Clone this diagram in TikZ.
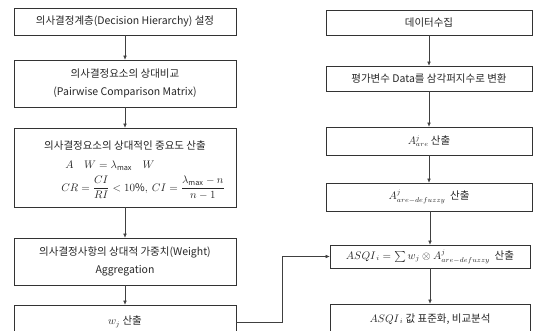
\documentclass[tikz,border=0pt]{standalone}
\usepackage{amsmath}
\usepackage{fontspec}
\setmainfont{Noto Sans CJK KR}
\usetikzlibrary{arrows.meta}
\begin{document}
\begin{tikzpicture}[x=1pt,y=-1pt,
  box/.style={draw=black!80, line width=0.6pt, rectangle, inner sep=0pt, align=center,
    text=black!85, font=\fontsize{10.5}{18}\selectfont},
  txt/.style={inner sep=0pt, align=center, text=black!85, font=\fontsize{10.5}{18}\selectfont},
  conn/.style={draw=black!75, line width=0.5pt, -{Latex[length=4pt,width=3.5pt]}}]
\useasboundingbox (0,0) rectangle (537,331);
\clip (0,0) rectangle (537,331);
% left column
\node[box, minimum width=222pt, minimum height=27pt] (b1) at (125,21.5) {의사결정계층(Decision Hierarchy) 설정};
\node[box, minimum width=222pt, minimum height=47pt] (b2) at (125,83.5) {의사결정요소의 상대비교\\(Pairwise Comparison Matrix)};
\node[box, minimum width=222pt, minimum height=79pt] (b3) at (125,167.5) {};
\node[txt] (b3t) at (125,146) {의사결정요소의 상대적인 중요도 산출};
\node[txt] (b3f1) at (110,166) {$A\quad W=\lambda_{\max}\quad W$};
\node[txt] (b3f2) at (143,188) {$\displaystyle CR=\frac{CI}{RI}<10\%,\ CI=\frac{\lambda_{\max}-n}{n-1}$};
\node[box, minimum width=222pt, minimum height=47pt] (b4) at (125,261.5) {의사결정사항의 상대적 가중치(Weight)\\Aggregation};
\node[box, minimum width=222pt, minimum height=34pt] (b5) at (125,322) {$w_j$ 산출};
% right column
\node[box, minimum width=206pt, minimum height=25pt] (r1) at (429,22.5) {데이터수집};
\node[box, minimum width=206pt, minimum height=25pt] (r2) at (429,78.5) {평가변수 Data를 삼각퍼지수로 변환};
\node[box, minimum width=206pt, minimum height=28pt] (r3) at (429,141) {$A^{j}_{are}$ 산출};
\node[box, minimum width=206pt, minimum height=28pt] (r4) at (429,197) {$A^{j}_{are-defuzzy}$\ \ 산출};
\node[box, minimum width=200pt, minimum height=23pt] (r5) at (430,256.5) {$ASQI_{\,i}=\sum w_j\otimes A^{j}_{are-defuzzy}$\ \ 산출};
\node[box, minimum width=200pt, minimum height=30pt] (r6) at (430,319) {$ASQI_{\,i}$ 값 표준화, 비교분석};
% connectors
\draw[conn] (b1) -- (b2);
\draw[conn] (b2) -- (b3);
\draw[conn] (b3) -- (b4);
\draw[conn] (b4) -- (b5);
\draw[conn] (r1) -- (r2);
\draw[conn] (r2) -- (r3);
\draw[conn] (r3) -- (r4);
\draw[conn] (r4.south -| r5.north) -- (r5.north);
\draw[conn] (r5) -- (r6);
\coordinate (bend) at (282,0);
\draw[conn] (b5.east) -- (b5.east -| bend) |- (r5.west);
\end{tikzpicture}
\end{document}
